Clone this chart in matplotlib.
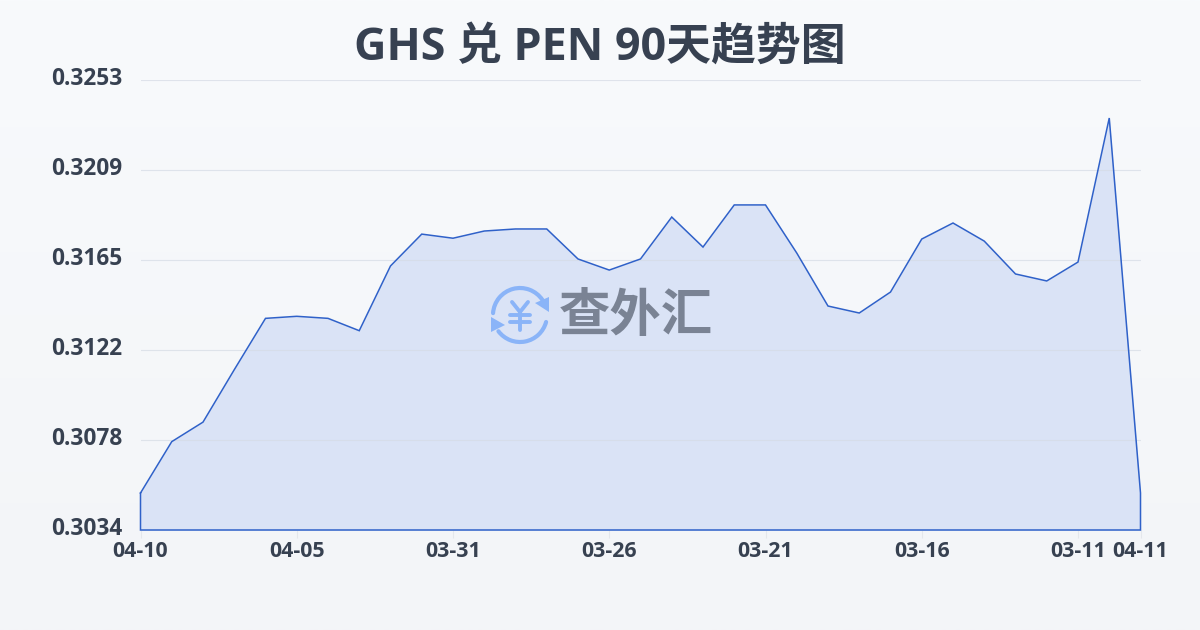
import numpy as np
import matplotlib
matplotlib.use("Agg")
import matplotlib.pyplot as plt
from matplotlib.patches import Arc, Polygon
from matplotlib.transforms import ScaledTranslation

FONT = ['Open Sans', 'Noto Sans CJK SC', 'DejaVu Sans']
plt.rcParams['font.family'] = FONT

title = "GHS 兑 PEN 90天趋势图"
y_tick_labels = ["0.3034", "0.3078", "0.3122", "0.3165", "0.3209", "0.3253"]
y_min, y_max = 0.3034, 0.3253
x_tick_index = [0, 5, 10, 15, 20, 25, 30, 32]
x_tick_labels = ["04-10", "04-05", "03-31", "03-26", "03-21", "03-16", "03-11", "04-11"]
rates = [0.30520, 0.30770, 0.30865, 0.31120, 0.31370, 0.31380, 0.31370, 0.31310,
         0.31625, 0.31780, 0.31760, 0.31795, 0.31805, 0.31805, 0.31659, 0.31605,
         0.31659, 0.31863, 0.31717, 0.31922, 0.31922, 0.31688, 0.31430, 0.31396,
         0.31498, 0.31756, 0.31834, 0.31746, 0.31586, 0.31552, 0.31644, 0.32345,
         0.30520]

W, H = 1200, 630
fig = plt.figure(figsize=(W / 100, H / 100), dpi=100)

# background gradient
bg = fig.add_axes([0, 0, 1, 1], zorder=0)
bg.axis('off')
c0 = np.array([0xf8, 0xfa, 0xfc]) / 255
c1 = np.array([0xf3, 0xf5, 0xf8]) / 255
grad = np.linspace(0, 1, 256)[:, None, None] * (c1 - c0) + c0
bg.imshow(grad, aspect='auto', extent=[0, 1, 0, 1])

ax = fig.add_axes([140.5 / W, 1 - 530 / H, 1000 / W, 450 / H], zorder=1)
ax.patch.set_alpha(0)
ax.set_xlim(0, 32)
ax.set_ylim(y_min, y_max)
x = np.arange(len(rates))

ax.fill_between(x, rates, y_min, color='#dae3f6', lw=0, zorder=1)
ax.plot(np.r_[x, x[-1], x[0], x[0]],
        np.r_[rates, y_min, y_min, rates[0]],
        color='#2f61c9', lw=1.1, zorder=3, solid_joinstyle='miter', clip_on=False)

for s in ax.spines.values():
    s.set_visible(False)
ax.set_yticks(np.linspace(y_min, y_max, len(y_tick_labels)))
ax.set_yticklabels(y_tick_labels, fontsize=16.3, fontweight='bold', color='#374151', va='center')
ax.tick_params(axis='y', length=0, pad=13)
up = ScaledTranslation(0, 1 / 100, fig.dpi_scale_trans)
for lab in ax.get_yticklabels():
    lab.set_transform(lab.get_transform() + up)
ax.set_xticks(x_tick_index)
ax.set_xticklabels(x_tick_labels, fontsize=15.4, fontweight='bold', color='#374151')
ax.tick_params(axis='x', length=6, width=0.8, color='#e4e7ec', pad=2)
ax.grid(axis='y', color='#d5dbe5', lw=0.8, alpha=0.7, zorder=2)
ax.set_axisbelow(False)
for gl in ax.get_ygridlines():
    gl.set_zorder(2)

fig.text(600 / W, 1 - 48 / H, title, ha='center', va='center', fontsize=32.3,
         fontweight='bold', color='#374151')

# watermark logo, drawn in pixel coordinates of the figure
ov = fig.add_axes([0, 0, 1, 1], zorder=3)
ov.axis('off')
ov.set_xlim(0, W)
ov.set_ylim(H, 0)
blue = '#8ab4f8'
cx, cy, r = 520, 315, 27
ov.add_patch(Arc((cx, cy), 2 * r, 2 * r, theta1=184, theta2=326, color=blue, lw=3.0, capstyle='round'))
ov.add_patch(Arc((cx, cy), 2 * r, 2 * r, theta1=15, theta2=143, color=blue, lw=3.0, capstyle='round'))
ov.add_patch(Polygon([[549, 297], [549, 312], [535, 303]], closed=True, color=blue, lw=0))
ov.add_patch(Polygon([[491, 317], [491, 332], [505, 325]], closed=True, color=blue, lw=0))
for xs, ys in [([512, 520, 528], [302, 312, 302]), ([510, 530], [315, 315]),
               ([510, 530], [322, 322]), ([520, 520], [312, 330])]:
    ov.plot(xs, ys, color=blue, lw=2.8, solid_capstyle='round', solid_joinstyle='round')
ov.text(636, 318, "查外汇", ha='center', va='center', fontsize=37, fontweight='bold', color='#7a8394')

fig.savefig("out.png", dpi=100)
